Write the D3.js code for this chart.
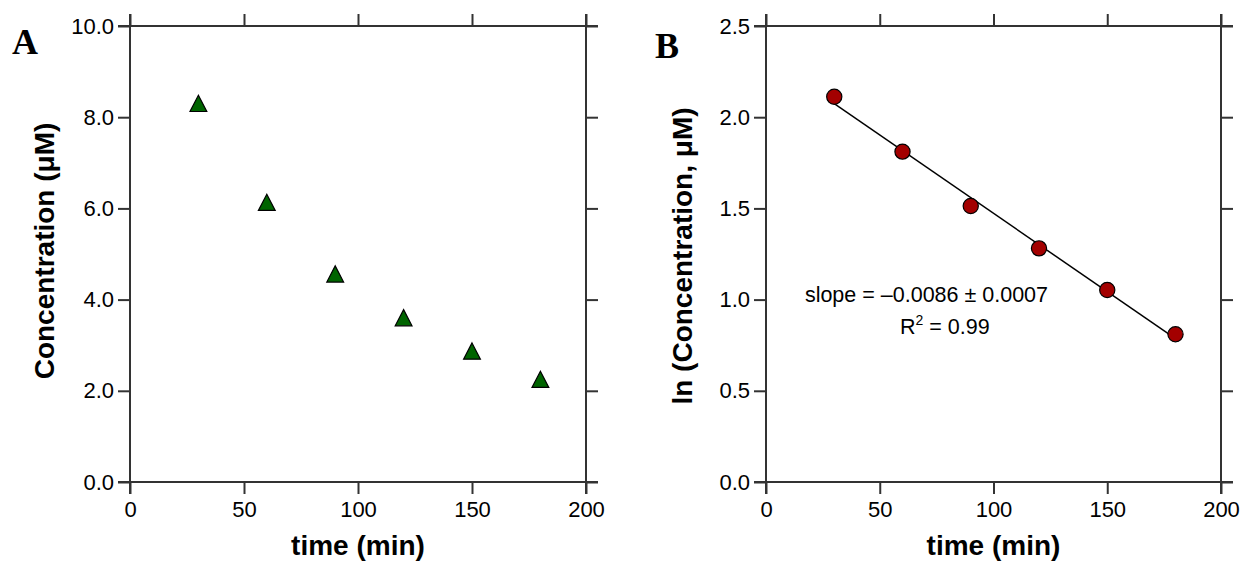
<!DOCTYPE html>
<html>
<head>
<meta charset="utf-8">
<script src="https://cdn.jsdelivr.net/npm/d3@7"></script>
<style>
  body { margin: 0; background: #fff; }
  svg { display: block; font-family: "Liberation Sans", Arial, sans-serif; }
</style>
</head>
<body>
<div id="chart"></div>
<script>
// data
const times = [30, 60, 90, 120, 150, 180];
const concentration = [8.3, 6.13, 4.56, 3.6, 2.87, 2.25];
const lnConcentration = [2.112, 1.811, 1.513, 1.281, 1.053, 0.81];
const timeTicks = [0, 50, 100, 150, 200];
const concTicks = [0, 2, 4, 6, 8, 10];
const lnTicks = [0, 0.5, 1, 1.5, 2, 2.5];

const width = 1241, height = 562;
const tick = 12, axisColor = "#333";

const svg = d3.select("#chart").append("svg")
  .attr("width", width)
  .attr("height", height);

function drawPanel(opt) {
  const x = d3.scaleLinear().domain([0, 200]).range([opt.left, opt.right]);
  const y = d3.scaleLinear().domain(opt.yDomain).range([opt.bottom, opt.top]);
  const g = svg.append("g");

  // axes: labelled bottom/left, unlabelled ticks on top/right
  const bottom = d3.axisBottom(x).tickValues(timeTicks).tickSize(tick).tickPadding(7).tickSizeOuter(0);
  const left = d3.axisLeft(y).tickValues(opt.yTicks).tickSize(tick).tickPadding(4).tickSizeOuter(0)
    .tickFormat(d3.format(".1f"));
  const top = d3.axisTop(x).tickValues(timeTicks).tickSize(tick).tickFormat("").tickSizeOuter(0);
  const right = d3.axisRight(y).tickValues(opt.yTicks).tickSize(tick).tickFormat("").tickSizeOuter(0);

  [[bottom, `translate(0,${opt.bottom})`], [left, `translate(${opt.left},0)`],
   [top, `translate(0,${opt.top})`], [right, `translate(${opt.right},0)`]].forEach(([ax, tr]) => {
    const a = g.append("g").attr("transform", tr).call(ax);
    a.select(".domain").remove();
    a.selectAll(".tick line").attr("stroke", axisColor).attr("stroke-width", 2);
    a.selectAll(".tick text").attr("font-size", 22).attr("fill", "#000")
      .attr("font-family", "Liberation Sans, Arial, sans-serif");
  });

  // frame lines, extended past the corners by the tick length
  const frame = [
    [opt.left - tick, opt.bottom, opt.right + tick, opt.bottom],
    [opt.left - tick, opt.top, opt.right + tick, opt.top],
    [opt.left, opt.top - tick, opt.left, opt.bottom + tick],
    [opt.right, opt.top - tick, opt.right, opt.bottom + tick]
  ];
  g.selectAll("line.frame").data(frame).enter().append("line")
    .attr("class", "frame")
    .attr("x1", d => d[0]).attr("y1", d => d[1])
    .attr("x2", d => d[2]).attr("y2", d => d[3])
    .attr("stroke", axisColor).attr("stroke-width", 2);

  // axis titles
  g.append("text")
    .attr("x", (opt.left + opt.right) / 2).attr("y", 555)
    .attr("text-anchor", "middle")
    .attr("font-size", 28).attr("font-weight", "bold")
    .text("time (min)");
  g.append("text")
    .attr("transform", `translate(${opt.yTitleX},${opt.yTitleY}) rotate(-90)`)
    .attr("text-anchor", "middle")
    .attr("font-size", 28).attr("font-weight", "bold")
    .text(opt.yTitle);

  // panel letter
  g.append("text")
    .attr("x", opt.letterX).attr("y", opt.letterY)
    .attr("font-family", "Liberation Serif, Times New Roman, serif")
    .attr("font-size", 36).attr("font-weight", "bold")
    .text(opt.letter);

  return { g, x, y };
}

// Panel A
const A = drawPanel({
  left: 130, right: 586, top: 26, bottom: 482,
  yDomain: [0, 10], yTicks: concTicks,
  yTitle: "Concentration (\u03bcM)", yTitleX: 54, yTitleY: 251,
  letter: "A", letterX: 12, letterY: 54
});

const tri = d3.line()([[0, -8.2], [8.4, 8], [-8.4, 8]]) + "Z";
A.g.selectAll("path.tri").data(times).enter().append("path")
  .attr("class", "tri")
  .attr("d", tri)
  .attr("transform", (d, i) => `translate(${A.x(d)},${A.y(concentration[i])})`)
  .attr("fill", "#006400")
  .attr("stroke", "#000").attr("stroke-width", 1.2);

// Panel B
const B = drawPanel({
  left: 766, right: 1221, top: 26, bottom: 482,
  yDomain: [0, 2.5], yTicks: lnTicks,
  yTitle: "ln (Concentration, \u03bcM)", yTitleX: 692, yTitleY: 256,
  letter: "B", letterX: 655, letterY: 58
});

// least-squares fit through ln values
const mx = d3.mean(times), my = d3.mean(lnConcentration);
const sxy = d3.sum(times, (t, i) => (t - mx) * (lnConcentration[i] - my));
const sxx = d3.sum(times, t => (t - mx) * (t - mx));
const slope = sxy / sxx, icpt = my - slope * mx;
const fitX = [times[0], times[times.length - 1]];

B.g.append("path")
  .attr("d", d3.line().x(d => B.x(d)).y(d => B.y(icpt + slope * d))(fitX))
  .attr("stroke", "#000").attr("stroke-width", 1.5).attr("fill", "none");

B.g.selectAll("circle").data(times).enter().append("circle")
  .attr("cx", d => B.x(d))
  .attr("cy", (d, i) => B.y(lnConcentration[i]))
  .attr("r", 7.6)
  .attr("fill", "#a30000")
  .attr("stroke", "#000").attr("stroke-width", 1.2);

// fit annotation
B.g.append("text")
  .attr("x", B.x(17.1)).attr("y", B.y(0.987))
  .attr("font-size", 21.5)
  .text("slope = \u20130.0086 \u00b1 0.0007");
const r2 = B.g.append("text")
  .attr("x", B.x(58.9)).attr("y", B.y(0.81))
  .attr("font-size", 21.5);
r2.append("tspan").text("R");
r2.append("tspan").attr("font-size", 14).attr("dy", -9).text("2");
r2.append("tspan").attr("dy", 9).text(" = 0.99");
</script>
</body>
</html>
